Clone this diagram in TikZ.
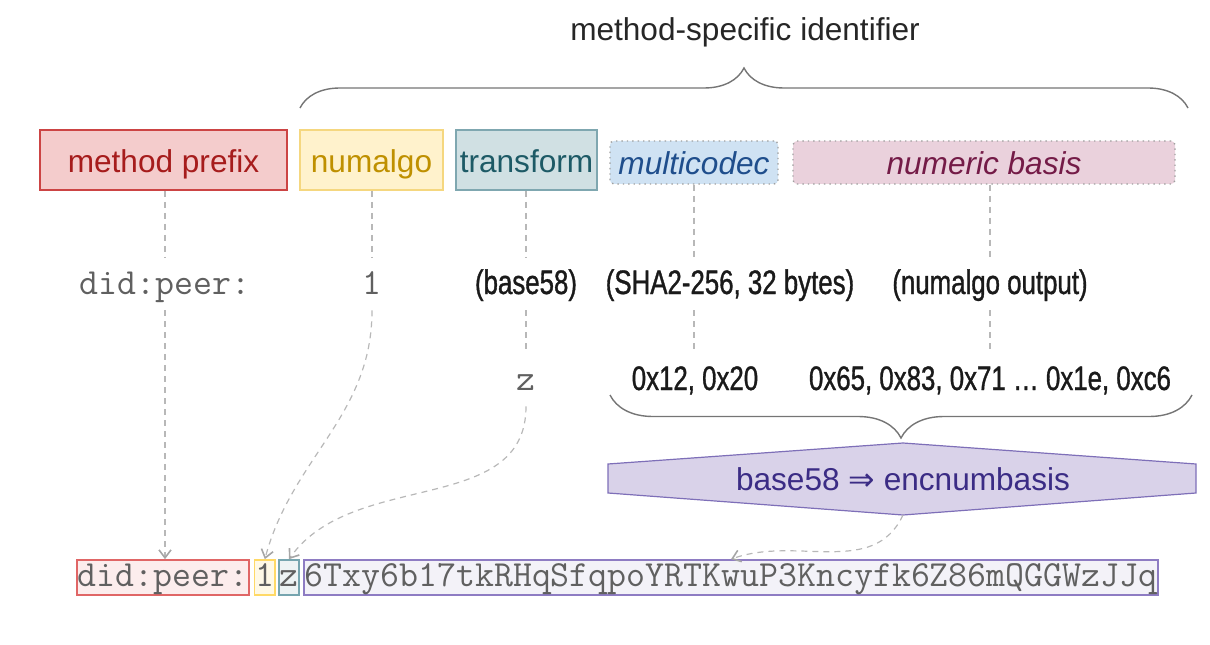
\documentclass[tikz,border=0pt]{standalone}
\usepackage{fontspec}
\setmainfont{Liberation Sans}
\newfontfamily\condfont[FakeStretch=0.76,FakeBold=1]{Liberation Sans}
\newfontfamily\arrowfont{DejaVu Sans}
\usepackage{xcolor}
\usetikzlibrary{calc}
\usetikzlibrary{positioning}
\usetikzlibrary{arrows.meta}
\usetikzlibrary{decorations.pathreplacing}

\definecolor{leadgray}{HTML}{B8B8B8}
\definecolor{tipgray}{HTML}{A6A6A6}
\definecolor{bracegray}{HTML}{757575}
\definecolor{titlegray}{HTML}{262626}
\definecolor{mpfill}{HTML}{F4CCCC}
\definecolor{mpdraw}{HTML}{CC4444}
\definecolor{mptext}{HTML}{A61C1C}
\definecolor{nafill}{HTML}{FFF2CC}
\definecolor{nadraw}{HTML}{F5D77F}
\definecolor{natext}{HTML}{BF9000}
\definecolor{tffill}{HTML}{D0E0E3}
\definecolor{tfdraw}{HTML}{7FA7B0}
\definecolor{tftext}{HTML}{1D5A66}
\definecolor{mcfill}{HTML}{CFE2F3}
\definecolor{mctext}{HTML}{1F4E8C}
\definecolor{nbfill}{HTML}{EAD1DC}
\definecolor{nbtext}{HTML}{741B47}
\definecolor{dotgray}{HTML}{A0A0A0}
\definecolor{hexfill}{HTML}{D9D2E9}
\definecolor{hexdraw}{HTML}{7E6FB8}
\definecolor{hextext}{HTML}{3B2C85}
\definecolor{monogray}{HTML}{606060}
\definecolor{condblack}{HTML}{1A1A1A}
\definecolor{bdfill}{HTML}{FCEDED}
\definecolor{bddraw}{HTML}{E06666}
\definecolor{b1fill}{HTML}{FFF9E6}
\definecolor{b1draw}{HTML}{FFD966}
\definecolor{bzfill}{HTML}{EDF3F4}
\definecolor{bzdraw}{HTML}{76A5AF}
\definecolor{blfill}{HTML}{F3F2F8}
\definecolor{bldraw}{HTML}{8E7CC3}

\newcommand\labelsize{\fontsize{15.8}{19}\selectfont}
\newcommand\monosize{\fontsize{18.4}{21}\selectfont\ttfamily}

\tikzset{
  lead/.style={draw=leadgray, line width=0.6pt, dash pattern=on 3pt off 2.5pt},
  leadarrow/.style={lead, -{Straight Barb[length=4pt,width=6pt,line width=0.8pt,color=tipgray]}},
  fieldbox/.style={draw, line width=0.8pt, minimum height=30pt, inner sep=0pt, text height=12pt, text depth=0pt},
  dotbox/.style={draw=dotgray, dotted, line width=0.7pt, rounded corners=2pt, minimum height=21.5pt, inner sep=0pt, text height=12pt, text depth=0pt, font=\labelsize\itshape},
  rowlabel/.style={anchor=base, text height=14pt, text depth=4pt, inner ysep=4pt, inner xsep=2pt},
  monolabel/.style={font=\monosize, text=monogray},
  condlabel/.style={font=\condfont\fontsize{17}{20}\selectfont, text=condblack},
  cellbox/.style={draw, line width=0.8pt, font=\monosize, text=monogray, minimum height=17.5pt, inner xsep=0.4pt, inner ysep=0pt, text height=10pt, text depth=1pt, anchor=west},
  bracket/.style={draw=bracegray, line width=0.7pt, decorate}
}

\begin{document}
\begin{tikzpicture}[x=0.5pt,y=0.5pt,font=\labelsize]
\useasboundingbox (0,0) rectangle (1210,644);
\node[text=titlegray] (title) at (745,612) {method-specific identifier};
\draw[bracket,decoration={brace,amplitude=20pt}] (300,536) -- (1188,536);

\node[fieldbox,draw=mpdraw,fill=mpfill,text=mptext,minimum width=123.5pt] (mp) at (163.5,484) {method prefix};
\node[fieldbox,draw=nadraw,fill=nafill,text=natext,minimum width=71.5pt] (na) at (371.5,484) {numalgo};
\node[fieldbox,draw=tfdraw,fill=tffill,text=tftext,minimum width=70.5pt] (tf) at (526.5,484) {transform};
\node[dotbox,fill=mcfill,text=mctext,minimum width=84pt] (mc) at (694,481.5) {multicodec};
\node[dotbox,fill=nbfill,text=nbtext,minimum width=191pt] (nb) at (984,481.5) {numeric basis};

\node[rowlabel,monolabel] (lp) at (165,350) {did:peer:};
\node[rowlabel,monolabel] (l1) at (372,350) {1};
\node[rowlabel,condlabel] (lb) at (526,350) {(base58)};
\node[rowlabel,condlabel] (ls) at (730,350) {(SHA2-256, 32 bytes)};
\node[rowlabel,condlabel] (lo) at (990,350) {(numalgo output)};
\node[rowlabel,monolabel] (lz) at (526,254) {z};
\node[rowlabel,condlabel] (lh) at (695,254) {0x12, 0x20};
\node[rowlabel,condlabel] (lv) at (990,254) {0x65, 0x83, 0x71 … 0x1e, 0xc6};

\draw[lead] (lp.north |- mp.south) -- (lp.north);
\draw[lead] (l1.north |- na.south) -- (l1.north);
\draw[lead] (lb.north |- tf.south) -- (lb.north);
\draw[lead] (mc.south) -- (mc.south |- ls.north);
\draw[lead] (lo.north |- nb.south) -- (lo.north);
\draw[lead] (lb.south) -- (lz.north);
\draw[lead] (mc.south |- ls.south) -- (mc.south |- lh.north);
\draw[lead] (lo.south) -- (lv.north);

\draw[bracket,decoration={brace,mirror,amplitude=21.5pt}] (610,249) -- (1192,249);

\draw[draw=hexdraw,fill=hexfill,line width=0.6pt] (608,180) -- (903,201) -- (1196,180) -- (1196,151) -- (903,129) -- (608,151) -- cycle;
\node[text=hextext] (enc) at (903,165) {base58 {\arrowfont ⇒} encnumbasis};
\coordinate (encbot) at (903,129);

\node[cellbox,draw=bddraw,fill=bdfill] (bd) at (76,66.5) {did:peer:};
\node[cellbox,draw=b1draw,fill=b1fill,right=2pt of bd] (b1) {1};
\node[cellbox,draw=bzdraw,fill=bzfill,right=1pt of b1] (bz) {z};
\node[cellbox,draw=bldraw,fill=blfill,right=1.5pt of bz] (bl) {6Txy6b17tkRHqSfqpoYRTKwuP3Kncyfk6Z86mQGGWzJJq};

\draw[leadarrow] (lp.south) -- (lp.south |- bd.north);
\draw[leadarrow] (l1.south) to[out=-90,in=75] (b1.north);
\draw[leadarrow] (lz.south) to[out=-90,in=55] (bz.north);
\draw[leadarrow] (encbot) to[out=-115,in=20] (bl.north);
\end{tikzpicture}
\end{document}
